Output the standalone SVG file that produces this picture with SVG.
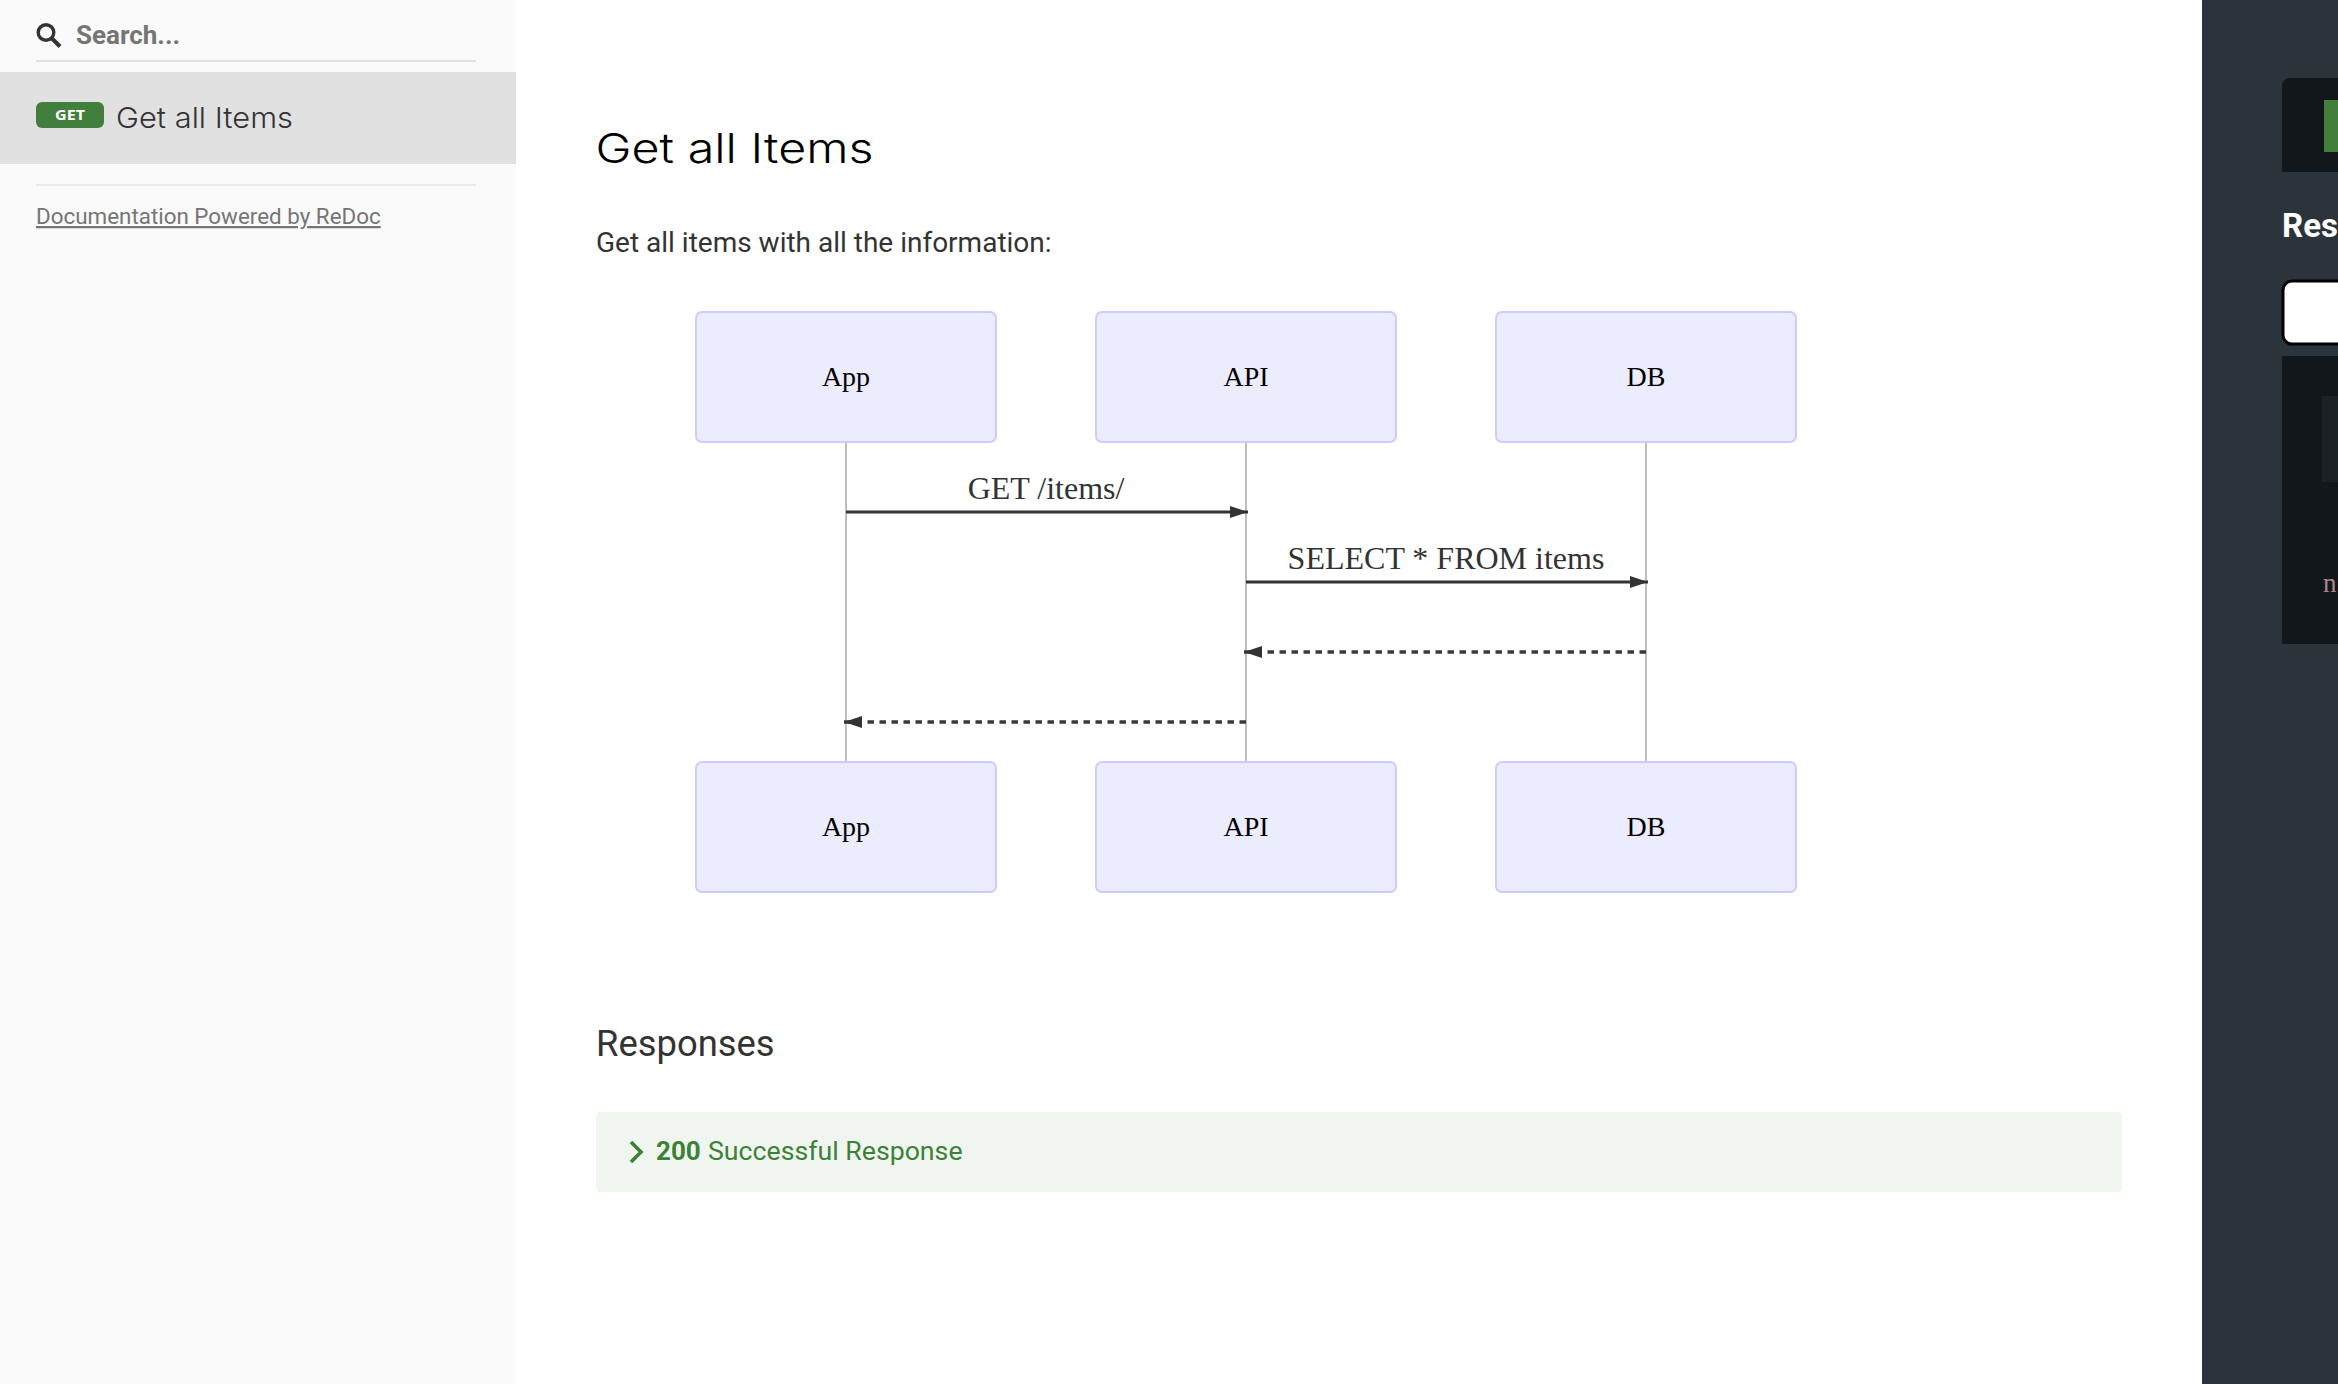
<svg xmlns="http://www.w3.org/2000/svg" width="2338" height="1384" viewBox="0 0 2338 1384">
<style>
.r{font-family:Roboto,"Liberation Sans",sans-serif}
.m{font-family:Inter,"Liberation Sans",sans-serif;font-weight:300}
.actor{fill:#ECECFF;stroke:#CCCCFF;stroke-width:2}
.atxt{font-family:"Liberation Serif","Times New Roman",serif;font-size:28px;fill:#000;text-anchor:middle}
.life{stroke:#bebebe;stroke-width:2;fill:none}
.msg{stroke:#333;stroke-width:3.2;fill:none}
.dash{stroke:#3a3a3a;stroke-width:3.6;stroke-dasharray:6.5 5.5}
.mtxt{font-family:"Liberation Serif","Times New Roman",serif;font-size:32px;fill:#333;text-anchor:middle}
.dark{fill:#11171a}
</style>
<defs>
<marker id="ah" viewBox="0 0 18 12" refX="18" refY="6" markerWidth="18" markerHeight="12" markerUnits="userSpaceOnUse" orient="auto"><path d="M0 0L18 6L0 12z" fill="#333"/></marker>
</defs>
<rect width="2338" height="1384" fill="#fff"/>
<g id="sidebar">
<rect width="516" height="1384" fill="#fafafa"/>
<g fill="none" stroke="#333"><circle cx="46" cy="32.5" r="7.8" stroke-width="3.4"/><path d="M51.5 38L60 46.5" stroke-width="4"/></g>
<text class="r" x="76" y="44" font-size="26" font-weight="700" fill="#757575">Search...</text>
<rect x="36" y="60" width="440" height="2" fill="#e1e1e1"/>
<rect y="72" width="516" height="92" fill="#e1e1e1"/>
<rect x="36" y="102" width="68" height="26" rx="6" fill="#427e3c"/>
<text x="70" y="120" font-family="'Open Sans','Liberation Sans',sans-serif" font-size="14.5" font-weight="700" fill="#fff" text-anchor="middle" textLength="30" lengthAdjust="spacingAndGlyphs">GET</text>
<text class="m" x="116" y="128" font-size="29" fill="#333" textLength="177" lengthAdjust="spacingAndGlyphs">Get all Items</text>
<rect x="36" y="184" width="440" height="2" fill="#ececec"/>
<text class="r" x="36" y="224" font-size="22.4" fill="#757575" text-decoration="underline">Documentation Powered by ReDoc</text>
</g>
<g id="content">
<text class="m" x="595.5" y="163" font-size="41" fill="#000" textLength="278" lengthAdjust="spacingAndGlyphs">Get all Items</text>
<text class="r" x="596" y="252" font-size="28" fill="#333">Get all items with all the information:</text>
<text class="r" x="596" y="1056" font-size="36.4" fill="#333">Responses</text>
<g id="response-200">
<rect x="596" y="1112" width="1526" height="80" rx="4" fill="#f0f5f0"/>
<path d="M631 1142L641 1152L631 1162" fill="none" stroke="#3d8138" stroke-width="3.6"/>
<text class="r" x="656" y="1160" font-size="26" font-weight="700" fill="#3d8138">200</text>
<text class="r" x="708" y="1160" font-size="26.7" fill="#3d8138">Successful Response</text>
</g>
</g>
<g id="connectors">
<path class="life" d="M846 442V762M1246 442V762M1646 442V762"/>
<path class="msg" d="M846 512H1248" marker-end="url(#ah)"/>
<path class="msg" d="M1246 582H1648" marker-end="url(#ah)"/>
<path class="msg dash" d="M1646 652H1244" marker-end="url(#ah)"/>
<path class="msg dash" d="M1246 722H844" marker-end="url(#ah)"/>
<text class="mtxt" x="1046" y="498.5">GET /items/</text>
<text class="mtxt" x="1446" y="568.5">SELECT * FROM items</text>
</g>
<g id="app-top"><rect class="actor" x="696" y="312" width="300" height="130" rx="6"/><text class="atxt" x="846" y="386">App</text></g>
<g id="api-top"><rect class="actor" x="1096" y="312" width="300" height="130" rx="6"/><text class="atxt" x="1246" y="386">API</text></g>
<g id="db-top"><rect class="actor" x="1496" y="312" width="300" height="130" rx="6"/><text class="atxt" x="1646" y="386">DB</text></g>
<g id="app-bottom"><rect class="actor" x="696" y="762" width="300" height="130" rx="6"/><text class="atxt" x="846" y="836">App</text></g>
<g id="api-bottom"><rect class="actor" x="1096" y="762" width="300" height="130" rx="6"/><text class="atxt" x="1246" y="836">API</text></g>
<g id="db-bottom"><rect class="actor" x="1496" y="762" width="300" height="130" rx="6"/><text class="atxt" x="1646" y="836">DB</text></g>
<g id="right-panel">
<rect x="2202" width="136" height="1384" fill="#2b343b"/>
<path class="dark" d="M2338 78H2290a8 8 0 0 0-8 8V172H2338z"/>
<rect x="2324" y="100" width="14" height="52" fill="#427e3c"/>
<text class="r" x="2282" y="237" font-size="33" font-weight="700" fill="#fff">Res</text>
<path d="M2340 281H2292a9 9 0 0 0-9 9V335a9 9 0 0 0 9 9H2340z" fill="#fff" stroke="#000" stroke-width="3"/>
<rect class="dark" x="2282" y="356" width="56" height="288"/>
<rect x="2322" y="396" width="16" height="86" fill="#1a2226"/>
<text x="2323" y="592" font-family="'Liberation Serif','Times New Roman',serif" font-size="27" fill="#b08590">n</text>
</g>
</svg>
